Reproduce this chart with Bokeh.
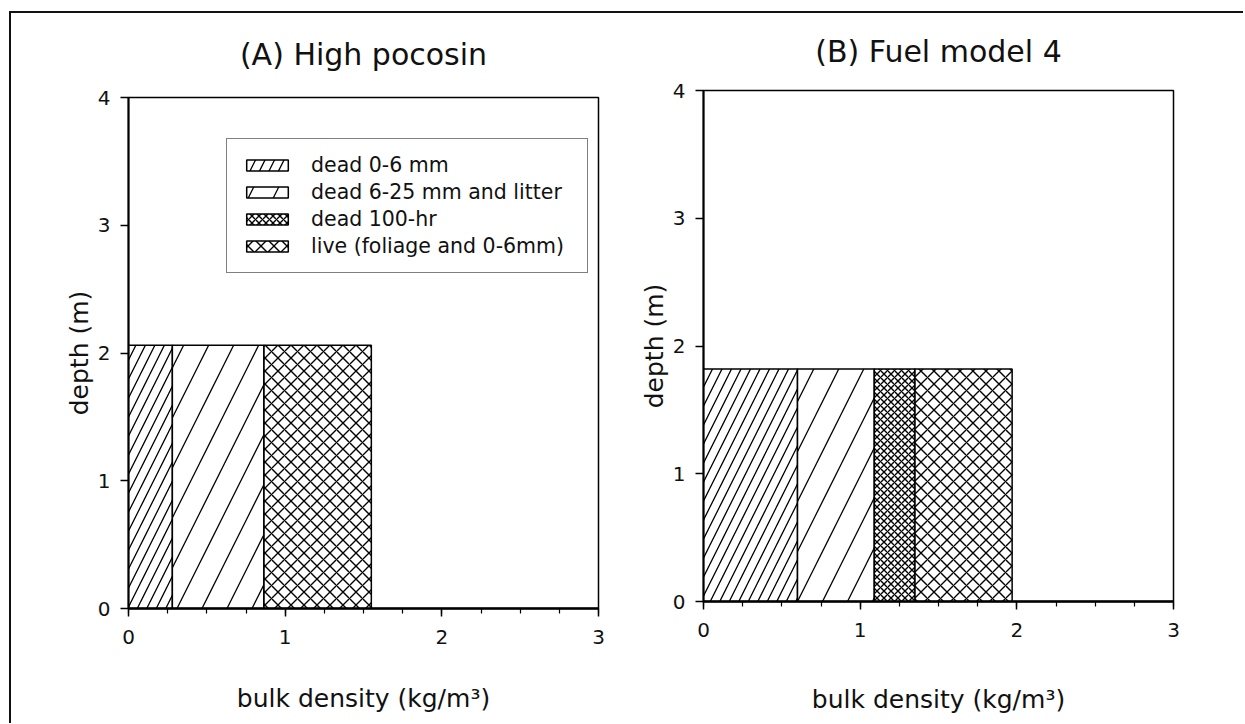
import numpy as np
from bokeh.plotting import figure
from bokeh.layouts import row, column
from bokeh.models import Legend, LegendItem, SingleIntervalTicker
from bokeh.embed import file_html
from bokeh.resources import INLINE

# ---- data ----
components = ["dead 0-6 mm", "dead 6-25 mm and litter", "dead 100-hr",
              "live (foliage and 0-6mm)"]
pocosin_load = [0.28, 0.585, 0.0, 0.685]     # bulk density of each fuel class (kg/m3)
pocosin_depth = 2.06                         # fuel bed depth (m)
fm4_load = [0.60, 0.49, 0.26, 0.62]
fm4_depth = 1.82
x_ticks_max = 3
y_ticks_max = 4

FONT = "DejaVu Sans"
hatch_styles = [
    dict(hatch_pattern="/", hatch_scale=19, hatch_weight=1.3),
    dict(hatch_pattern="/", hatch_scale=50, hatch_weight=1.3),
    dict(hatch_pattern="x", hatch_scale=7, hatch_weight=1.4),
    dict(hatch_pattern="x", hatch_scale=13, hatch_weight=1.4),
]


def make_panel(title, loads, depth, mb_left, mb_top, mb_right, mb_bottom,
               title_standoff, xlabel_standoff, legend=False):
    p = figure(x_range=(0, x_ticks_max), y_range=(0, y_ticks_max),
               frame_width=470, frame_height=511,
               min_border_left=mb_left, min_border_top=mb_top,
               min_border_right=mb_right, min_border_bottom=mb_bottom,
               toolbar_location=None, output_backend="svg", title=title)
    p.title.align = "center"
    p.title.vertical_align = "top"
    p.title.text_font = FONT
    p.title.text_font_size = "30px"
    p.title.text_font_style = "normal"
    p.title.text_color = "#111111"
    p.title.standoff = title_standoff

    rights = np.cumsum(loads)
    lefts = rights - np.array(loads)
    rs = []
    for i, name in enumerate(components):
        r = p.quad(left=[lefts[i]], right=[rights[i]], bottom=[0], top=[depth],
                   fill_color="white", line_color="black", line_width=1.5,
                   hatch_color="black", **hatch_styles[i])
        rs.append(r)

    p.grid.visible = False
    p.outline_line_color = "black"
    p.outline_line_width = 1.5
    p.outline_line_alpha = 1.0
    p.background_fill_color = "white"
    p.border_fill_color = "white"

    p.xaxis.ticker = SingleIntervalTicker(interval=1, num_minor_ticks=4)
    p.yaxis.ticker = SingleIntervalTicker(interval=1, num_minor_ticks=0)
    for ax in (p.xaxis, p.yaxis):
        ax.axis_line_color = "black"
        ax.axis_line_width = 2
        ax.major_tick_line_color = "black"
        ax.major_tick_line_width = 1.5
        ax.major_tick_out = 8
        ax.major_tick_in = 0
        ax.minor_tick_line_color = "black"
        ax.minor_tick_line_width = 1.2
        ax.minor_tick_out = 5
        ax.minor_tick_in = 0
        ax.major_label_text_font = FONT
        ax.major_label_text_font_size = "20px"
        ax.major_label_text_color = "#111111"
        ax.axis_label_text_font = FONT
        ax.axis_label_text_font_size = "25px"
        ax.axis_label_text_font_style = "normal"
        ax.axis_label_text_color = "#111111"
    p.xaxis.axis_line_width = 2.5
    p.yaxis.minor_tick_line_color = None
    p.xaxis.axis_label = "bulk density (kg/m³)"
    p.yaxis.axis_label = "depth (m)"
    p.xaxis.major_label_standoff = 13
    p.xaxis.axis_label_standoff = xlabel_standoff
    p.yaxis.major_label_standoff = 10
    p.yaxis.axis_label_standoff = 1

    if legend:
        lg = Legend(items=[LegendItem(label=c, renderers=[r]) for c, r in zip(components, rs)],
                    location=(98, 335), glyph_width=52, glyph_height=14,
                    label_text_font=FONT, label_text_font_size="20.5px",
                    label_text_color="#111111", label_standoff=18, label_height=20,
                    label_width=262, padding=14, spacing=3, margin=0,
                    border_line_color="black", border_line_width=1,
                    background_fill_color="white", background_fill_alpha=1.0)
        p.add_layout(lg)
    return p


pA = make_panel("(A) High pocosin", pocosin_load, pocosin_depth,
                117, 84, 30, 115, title_standoff=47, xlabel_standoff=37, legend=True)
pB = make_panel("(B) Fuel model 4", fm4_load, fm4_depth,
                75, 77, 70, 122, title_standoff=40, xlabel_standoff=45)

layout = row(column(pA), column(pB), margin=(11, 0, 0, 9),
             styles={"border-left": "2px solid #111111", "border-top": "2px solid #111111",
                     "background-color": "white"})

open("out.html", "w").write(file_html(layout, INLINE))
